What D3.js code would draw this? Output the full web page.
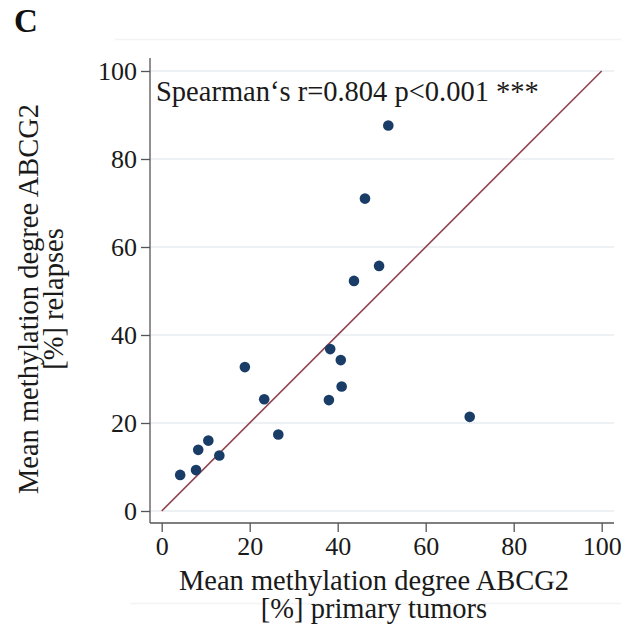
<!DOCTYPE html>
<html>
<head>
<meta charset="utf-8">
<script src="https://cdn.jsdelivr.net/npm/d3@7"></script>
<style>
	body { margin: 0; background: #fff; }
	svg { display: block; font-family: "Liberation Serif", "Times New Roman", serif; }
</style>
</head>
<body>
<svg width="621" height="631"></svg>
<script>
// mean methylation degree ABCG2, one entry per patient
const primaryTumors = [4.2, 7.8, 8.3, 10.6, 13.1, 18.9, 23.3, 26.5, 38.0, 38.3, 40.7, 40.9, 43.7, 46.2, 49.4, 51.5, 70.0]
const relapses = [8.2, 9.3, 13.9, 16.0, 12.6, 32.7, 25.4, 17.4, 25.2, 36.8, 34.3, 28.3, 52.3, 71.0, 55.7, 87.6, 21.4]
const ticks = [0, 20, 40, 60, 80, 100]
const identity = [0, 100] // reference line y = x

const svg = d3.select('svg')

const x = d3.scaleLinear().domain([0, 100]).range([161.7, 601.7])
const y = d3.scaleLinear().domain([0, 100]).range([511, 71])

const axisX = 150
const axisY = 523

// faint panel borders left over from the figure
svg.append('line')
	.attr('x1', 115).attr('x2', 621).attr('y1', 39.5).attr('y2', 39.5)
	.attr('stroke', '#f3f3f3').attr('stroke-width', 1.5)
svg.append('line')
	.attr('x1', 130).attr('x2', 621).attr('y1', 603.5).attr('y2', 603.5)
	.attr('stroke', '#f3f3f3').attr('stroke-width', 1.5)

// gridlines
svg.append('g')
	.selectAll('line')
	.data(ticks)
	.enter().append('line')
		.attr('x1', axisX)
		.attr('x2', 614)
		.attr('y1', d => y(d))
		.attr('y2', d => y(d))
		.attr('stroke', '#e9edef')
		.attr('stroke-width', 1.5)

// y axis
const gy = svg.append('g')
	.attr('transform', `translate(${axisX},0)`)
	.call(d3.axisLeft(y).tickValues(ticks).tickSize(9).tickPadding(4))
gy.select('.domain').attr('d', `M0,58V${axisY}`)

// x axis
const gx = svg.append('g')
	.attr('transform', `translate(0,${axisY})`)
	.call(d3.axisBottom(x).tickValues(ticks).tickSize(9).tickPadding(5))
gx.select('.domain').attr('d', `M${axisX},0H614`)

svg.selectAll('.domain, .tick line')
	.attr('stroke', '#555')
	.attr('stroke-width', 1.3)
svg.selectAll('.tick text')
	.attr('font-family', '"Liberation Serif", serif')
	.attr('font-size', 26)
	.attr('fill', '#1a1a1a')

// identity line
svg.append('line')
	.attr('x1', x(identity[0])).attr('y1', y(identity[0]))
	.attr('x2', x(identity[1])).attr('y2', y(identity[1]))
	.attr('stroke', '#8f4350')
	.attr('stroke-width', 1.6)

// points
svg.append('g')
	.selectAll('circle')
	.data(primaryTumors.map((v, i) => [v, relapses[i]]))
	.enter().append('circle')
		.attr('cx', d => x(d[0]))
		.attr('cy', d => y(d[1]))
		.attr('r', 5.3)
		.attr('fill', '#1a3d68')

// annotation
svg.append('text')
	.attr('x', 156)
	.attr('y', 101)
	.attr('font-size', 28.5)
	.attr('fill', '#1a1a1a')
	.text('Spearman\u2018s r=0.804 p<0.001 ***')

// panel letter
svg.append('text')
	.attr('x', 14)
	.attr('y', 32)
	.attr('font-size', 33)
	.attr('font-weight', 'bold')
	.attr('fill', '#111')
	.text('C')

// axis titles
const xt = svg.append('text')
	.attr('text-anchor', 'middle')
	.attr('font-size', 28.5)
	.attr('fill', '#1a1a1a')
xt.append('tspan').attr('x', 374).attr('y', 590).text('Mean methylation degree ABCG2')
xt.append('tspan').attr('x', 374).attr('y', 618).text('[%] primary tumors')

const yt = svg.append('text')
	.attr('text-anchor', 'middle')
	.attr('font-size', 28.5)
	.attr('fill', '#1a1a1a')
	.attr('transform', 'translate(0,299) rotate(-90)')
yt.append('tspan').attr('x', 0).attr('y', 38).text('Mean methylation degree ABCG2')
yt.append('tspan').attr('x', 0).attr('y', 63).text('[%] relapses')
</script>
</body>
</html>
